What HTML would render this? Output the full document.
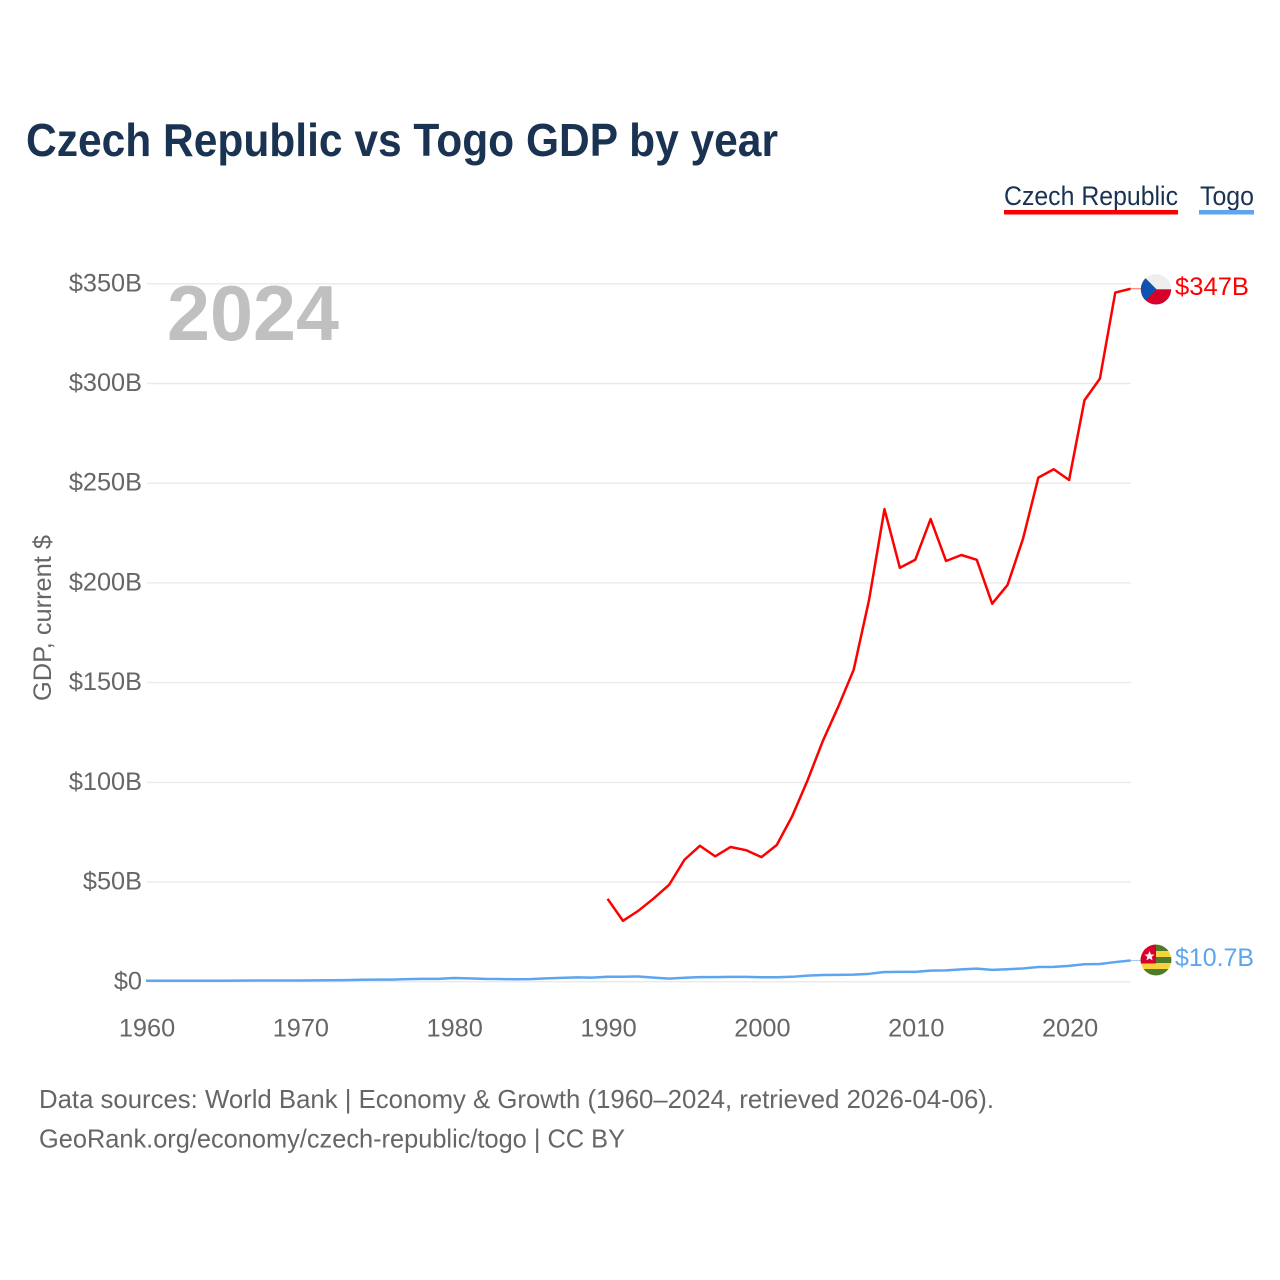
<!DOCTYPE html>
<html lang="en">
<head>
<meta charset="utf-8">
<title>Czech Republic vs Togo GDP by year</title>
<style>
html,body{margin:0;padding:0;background:#fff;width:1280px;height:1280px;overflow:hidden}
svg{display:block}
text{font-family:"Liberation Sans",sans-serif}
</style>
</head>
<body>
<svg id="chart" width="1280" height="1280" viewBox="0 0 1280 1280" xmlns="http://www.w3.org/2000/svg">
  <defs>
    <clipPath id="cz-clip"><circle cx="1156" cy="289.3" r="15.2"/></clipPath>
    <clipPath id="tg-clip"><circle cx="1156" cy="960" r="15.4"/></clipPath>
  </defs>
  <text x="26" y="156" font-size="46" font-weight="700" fill="#1a3352" textLength="752" lengthAdjust="spacingAndGlyphs">Czech Republic vs Togo GDP by year</text>

  <g>
    <g>
      <text x="1004" y="205" font-size="27" fill="#1a3352" textLength="174" lengthAdjust="spacingAndGlyphs">Czech Republic</text>
      <rect x="1004" y="210" width="174" height="4.5" fill="#ff0000"/>
    </g>
    <g>
      <text x="1200" y="205" font-size="27" fill="#1a3352" textLength="54" lengthAdjust="spacingAndGlyphs">Togo</text>
      <rect x="1199" y="210" width="55" height="4.5" fill="#5da5ee"/>
    </g>
  </g>

  <g id="grid"></g>
  <g id="yticks"></g>
  <g id="xticks"></g>

  <text transform="translate(51,618) rotate(-90)" text-anchor="middle" font-size="25" fill="#666666" textLength="166" lengthAdjust="spacingAndGlyphs">GDP, current $</text>
  <text x="167" y="340" font-size="78" font-weight="700" fill="#c0c0c0" textLength="172" lengthAdjust="spacingAndGlyphs">2024</text>

  <g id="series"></g>

  <g clip-path="url(#cz-clip)">
    <rect x="1140" y="273" width="32" height="16.3" fill="#eeeeee"/>
    <rect x="1140" y="289.3" width="32" height="16" fill="#d7002b"/>
    <polygon points="1139,271.5 1156.5,289.3 1139,307" fill="#0f52b0"/>
  </g>
  <g clip-path="url(#tg-clip)">
    <rect x="1140" y="944" width="32" height="32" fill="#f7d43a"/>
    <rect x="1140" y="944" width="32" height="7" fill="#4f7a2c"/>
    <rect x="1140" y="957" width="32" height="6" fill="#4f7a2c"/>
    <rect x="1140" y="969" width="32" height="7" fill="#4f7a2c"/>
    <rect x="1140" y="944" width="16" height="19.5" fill="#d8002c"/>
    <polygon points="1149.5,951 1150.9,954.4 1154.5,954.6 1151.7,956.9 1152.6,960.4 1149.5,958.5 1146.4,960.4 1147.3,956.9 1144.5,954.6 1148.1,954.4" fill="#f4f4f4"/>
  </g>

  <text id="label-cz" x="1175" y="295" font-size="25" fill="#ff0000" textLength="74" lengthAdjust="spacingAndGlyphs">$347B</text>
  <text id="label-tg" x="1175" y="966" font-size="25" fill="#5da5ee" textLength="79" lengthAdjust="spacingAndGlyphs">$10.7B</text>

  <text x="39" y="1108" font-size="26" fill="#666666" textLength="955" lengthAdjust="spacingAndGlyphs">Data sources: World Bank | Economy &amp; Growth (1960–2024, retrieved 2026-04-06).</text>
  <text x="39" y="1147.5" font-size="26" fill="#666666" textLength="586" lengthAdjust="spacingAndGlyphs">GeoRank.org/economy/czech-republic/togo | CC BY</text>
</svg>
<script>
const yTickValues = [0, 50, 100, 150, 200, 250, 300, 350];
const yTickLabels = ["$0", "$50B", "$100B", "$150B", "$200B", "$250B", "$300B", "$350B"];
const xTickYears = [1960, 1970, 1980, 1990, 2000, 2010, 2020];
const czechYears = [1990,1991,1992,1993,1994,1995,1996,1997,1998,1999,2000,2001,2002,2003,2004,2005,2006,2007,2008,2009,2010,2011,2012,2013,2014,2015,2016,2017,2018,2019,2020,2021,2022,2023,2024];
const czechGdp = [41.6,30.6,35.6,41.8,48.6,61.2,68.2,62.9,67.6,66.0,62.5,68.6,83.0,101.0,120.9,138.0,156.5,191.6,237.0,207.6,211.6,232.0,211.0,214.0,211.6,189.6,199.0,222.0,252.8,257.0,251.6,291.6,302.4,345.6,347.5];
const togoYears = [1960,1961,1962,1963,1964,1965,1966,1967,1968,1969,1970,1971,1972,1973,1974,1975,1976,1977,1978,1979,1980,1981,1982,1983,1984,1985,1986,1987,1988,1989,1990,1991,1992,1993,1994,1995,1996,1997,1998,1999,2000,2001,2002,2003,2004,2005,2006,2007,2008,2009,2010,2011,2012,2013,2014,2015,2016,2017,2018,2019,2020,2021,2022,2023,2024];
const togoGdp = [0.5,0.5,0.5,0.55,0.55,0.55,0.6,0.65,0.65,0.65,0.65,0.7,0.8,0.85,1.0,1.1,1.1,1.35,1.45,1.45,1.9,1.7,1.45,1.4,1.25,1.35,1.7,1.95,2.2,2.1,2.55,2.55,2.65,2.1,1.6,2.0,2.35,2.35,2.45,2.45,2.3,2.3,2.5,3.1,3.4,3.5,3.6,4.0,4.9,5.0,5.0,5.6,5.7,6.2,6.6,6.0,6.3,6.7,7.4,7.5,8.0,8.8,8.9,9.9,10.7];

const svgNS = "http://www.w3.org/2000/svg";
const xScale = function (year) { return 146 + (year - 1960) * 15.385; };
const yScale = function (value) { return 981.8 - value * 1.9944; };
const labelEndX = 1141;

function makeEl(tag, attrs) {
  const el = document.createElementNS(svgNS, tag);
  for (const k in attrs) { el.setAttribute(k, attrs[k]); }
  return el;
}

const gridGroup = document.getElementById("grid");
const yGroup = document.getElementById("yticks");
const xGroup = document.getElementById("xticks");
const seriesGroup = document.getElementById("series");

yTickValues.forEach(function (v, i) {
  const line = makeEl("line", { x1: 147, x2: 1131, y1: yScale(v), y2: yScale(v), stroke: "#ebebeb", "stroke-width": 1.5 });
  
  
  gridGroup.appendChild(line);
  const t = makeEl("text", { x: 142, y: yScale(v) + 7.5, "text-anchor": "end", "font-size": 25.3, fill: "#666666" });
  
  
  t.textContent = yTickLabels[i];
  yGroup.appendChild(t);
});

xTickYears.forEach(function (year) {
  const t = makeEl("text", { x: xScale(year) + 1, y: 1036.5, "text-anchor": "middle", "font-size": 25.3, fill: "#666666" });
  
  
  t.textContent = String(year);
  xGroup.appendChild(t);
});

function linePath(years, values) {
  return years.map(function (y, i) {
    return (i ? "L" : "M") + xScale(y).toFixed(2) + " " + yScale(values[i]).toFixed(2);
  }).join(" ");
}

const togoLine = makeEl("path", { d: linePath(togoYears, togoGdp), fill: "none", stroke: "#5da5ee", "stroke-width": 2.5, "stroke-linejoin": "round" });


seriesGroup.appendChild(togoLine);

const czechLine = makeEl("path", { d: linePath(czechYears, czechGdp), fill: "none", stroke: "#ff0000", "stroke-width": 2.5, "stroke-linejoin": "round" });


seriesGroup.appendChild(czechLine);

const czLast = czechGdp[czechGdp.length - 1];
const tgLast = togoGdp[togoGdp.length - 1];
const czLeader = makeEl("line", { x1: xScale(2024), x2: labelEndX, y1: yScale(czLast), y2: yScale(czLast), stroke: "#ff0000", "stroke-width": 1, opacity: 0.6 });


seriesGroup.appendChild(czLeader);
const tgLeader = makeEl("line", { x1: xScale(2024), x2: labelEndX, y1: yScale(tgLast), y2: yScale(tgLast), stroke: "#5da5ee", "stroke-width": 1, opacity: 0.6 });


seriesGroup.appendChild(tgLeader);
</script>
</body>
</html>
